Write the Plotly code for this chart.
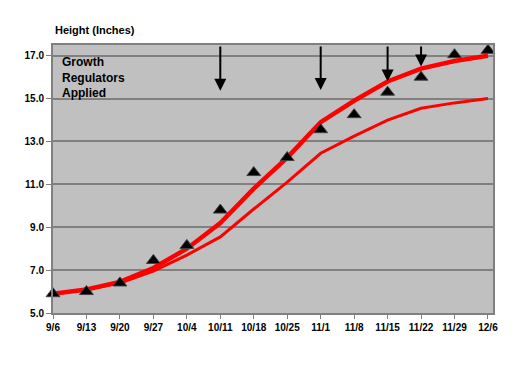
import plotly.graph_objects as go

dates = ["9/6", "9/13", "9/20", "9/27", "10/4", "10/11", "10/18", "10/25",
         "11/1", "11/8", "11/15", "11/22", "11/29", "12/6"]
measured = [5.9, 6.0, 6.4, 7.45, 8.15, 9.8, 11.55, 12.25, 13.55, 14.25, 15.3, 16.0, 17.05, 17.25]
upper_line = [5.9, 6.1, 6.45, 7.1, 8.0, 9.2, 10.8, 12.25, 13.9, 14.9, 15.8, 16.4, 16.75, 17.0]
lower_line = [5.9, 6.1, 6.4, 6.95, 7.7, 8.55, 9.85, 11.1, 12.45, 13.25, 14.0, 14.55, 14.8, 15.0]
application_dates = ["10/11", "11/1", "11/15", "11/22"]
arrow_tips = [15.37, 15.4, 15.8, 16.5]
y_ticks = [5.0, 7.0, 9.0, 11.0, 13.0, 15.0, 17.0]

xi = list(range(len(dates)))
font_family = "Liberation Sans, Arial, sans-serif"

fig = go.Figure()
fig.add_trace(go.Scatter(x=xi, y=lower_line, mode="lines",
                         line=dict(color="#FF0000", width=3), showlegend=False))
fig.add_trace(go.Scatter(x=xi, y=upper_line, mode="lines",
                         line=dict(color="#FF0000", width=4.5), showlegend=False))
fig.add_trace(go.Scatter(x=xi, y=measured, mode="markers", cliponaxis=False,
                         marker=dict(symbol="triangle-up", size=12, color="black",
                                     line=dict(color="#404040", width=1)),
                         showlegend=False))

for d, tip in zip(application_dates, arrow_tips):
    xv = dates.index(d)
    fig.add_annotation(x=xv, y=tip, ax=xv, ay=17.5, xref="x", yref="y",
                       axref="x", ayref="y", text="", showarrow=True,
                       arrowhead=2, arrowsize=1.2, arrowwidth=2, arrowcolor="black")

fig.add_annotation(x=0.22, y=15.98, xref="x", yref="y", xanchor="left", yanchor="middle",
                   text="<b>Growth<br>Regulators<br>Applied</b>", showarrow=False, align="left",
                   font=dict(family=font_family, size=12, color="black"))
fig.add_annotation(x=0, y=1.025, xref="paper", yref="paper", xanchor="left", yanchor="bottom",
                   text="<b>Height (Inches)</b>", showarrow=False,
                   font=dict(family=font_family, size=11, color="black"))

fig.update_xaxes(range=[0, 13.15], tickvals=xi, ticktext=[f"<b>{d}</b>" for d in dates],
                 showgrid=False, zeroline=False, showline=True, linecolor="#808080",
                 linewidth=2, mirror=True, ticks="outside", ticklen=4, tickcolor="#808080",
                 tickangle=0, tickfont=dict(family=font_family, size=10, color="black"))
fig.update_yaxes(range=[5, 17.5], tickvals=y_ticks, ticktext=[f"<b>{v:.1f}</b>" for v in y_ticks],
                 showgrid=True, gridcolor="#808080", gridwidth=1.5, zeroline=False,
                 showline=True, linecolor="#808080", linewidth=2, mirror=True,
                 ticks="outside", ticklen=5, tickcolor="#808080",
                 tickfont=dict(family=font_family, size=10, color="black"))

fig.update_layout(width=525, height=365, plot_bgcolor="#C0C0C0", paper_bgcolor="white",
                  margin=dict(l=45, r=40, t=37, b=60), showlegend=False)
fig.write_html("out.html")
